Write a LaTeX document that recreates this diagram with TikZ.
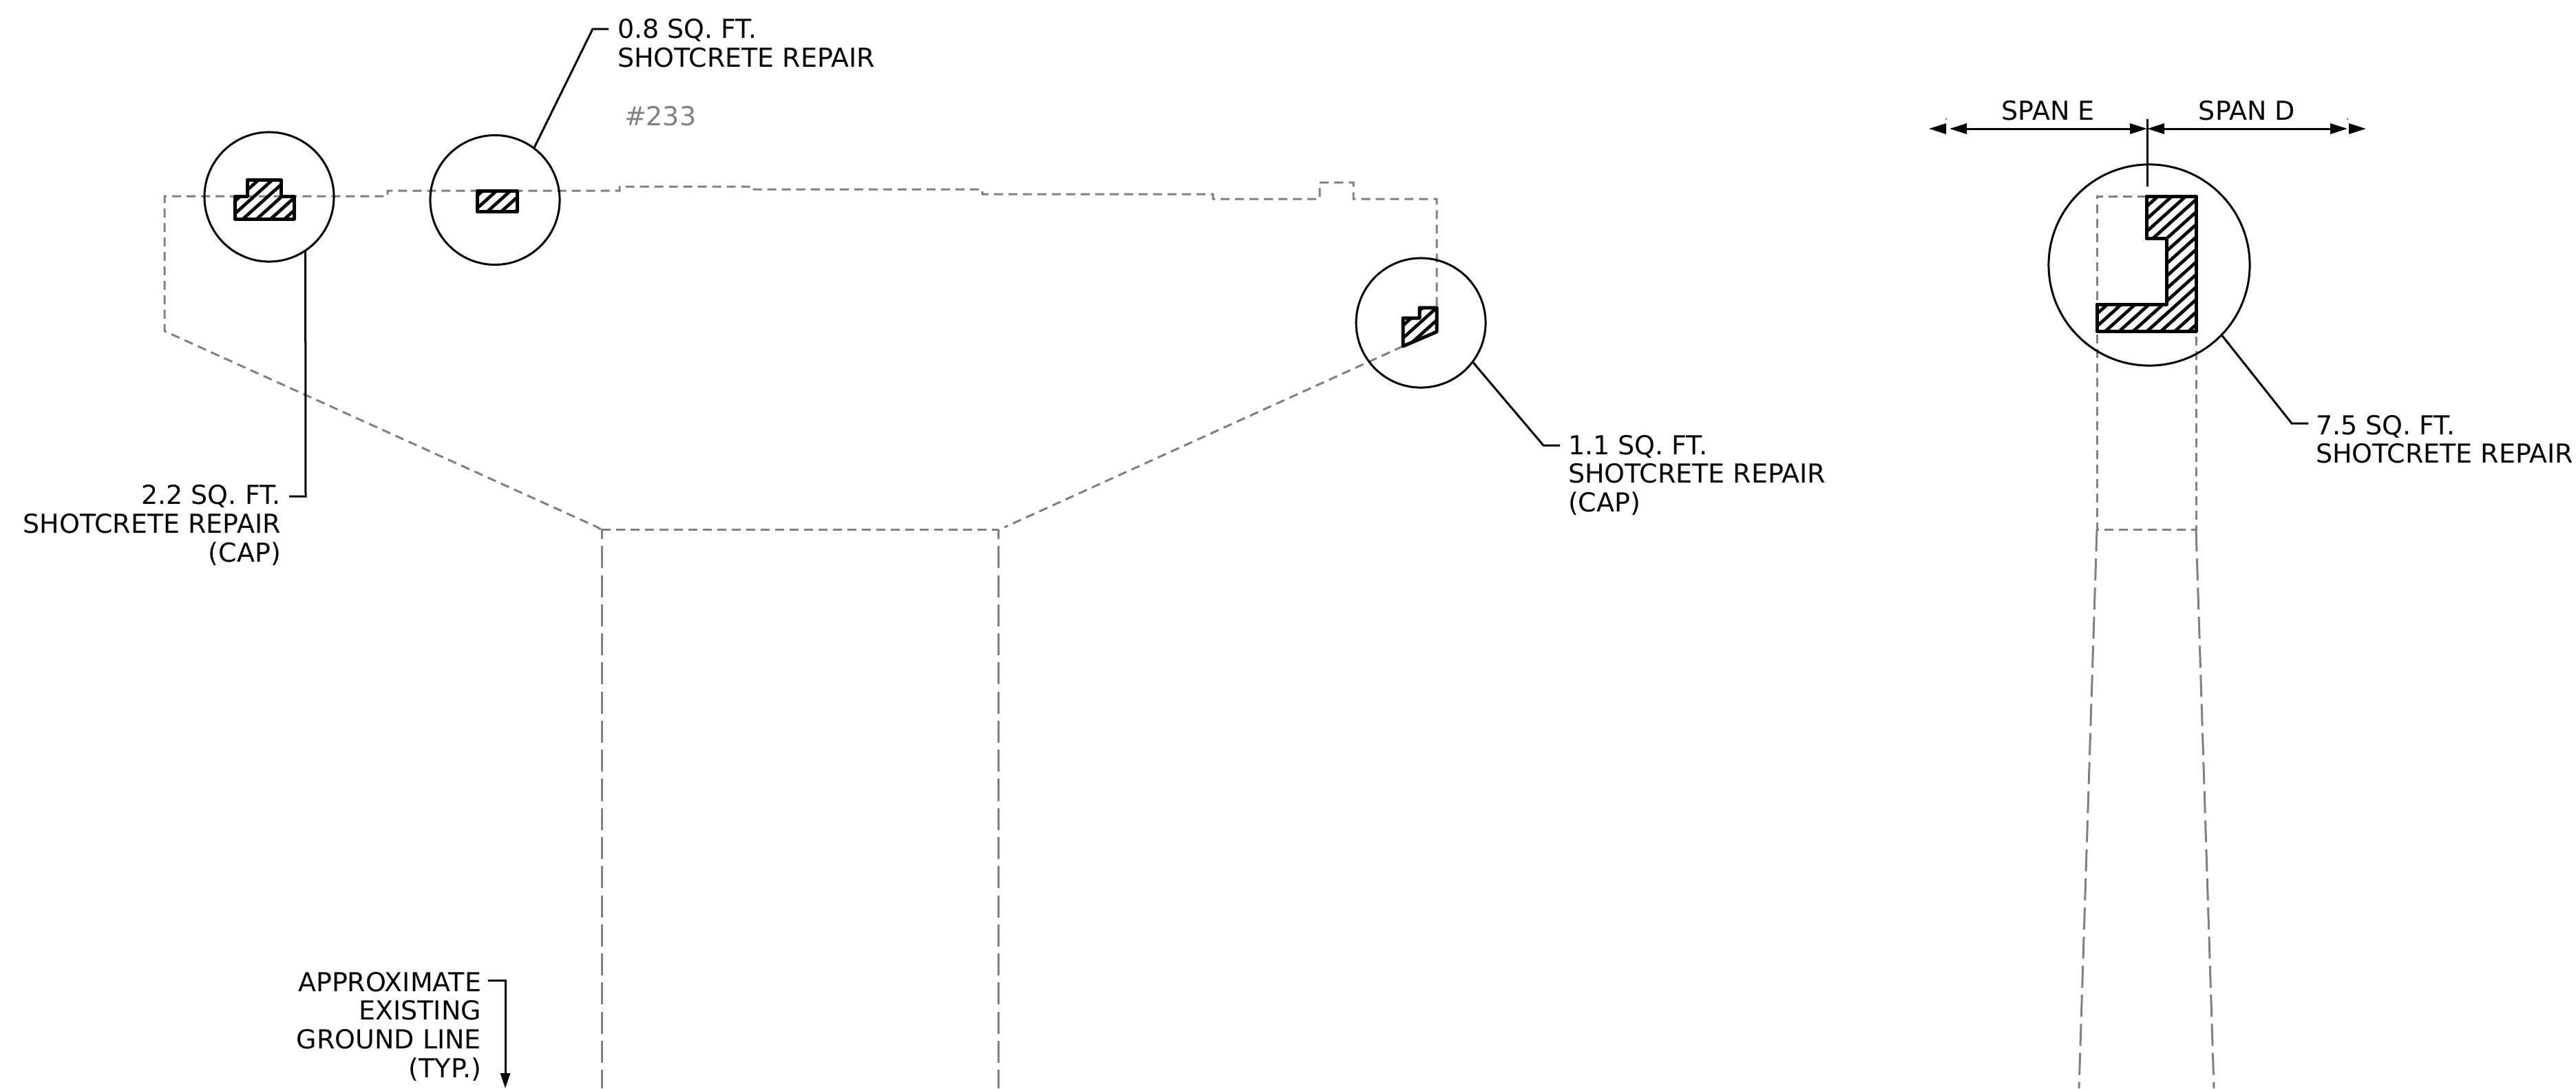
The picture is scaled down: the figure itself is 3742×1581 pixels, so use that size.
\documentclass[tikz,border=0pt]{standalone}
\usepackage{fontspec}
\setmainfont{DejaVu Sans}
\usetikzlibrary{arrows.meta,patterns.meta}
\tikzset{
	outline/.style={draw=black!50,line width=0.03cm,dash pattern=on 0.13cm off 0.08cm},
	outlinelong/.style={draw=black!50,line width=0.03cm,dash pattern=on 0.32cm off 0.1025cm,dash phase=#1},
	outlinelong/.default=0cm,
	repair/.style={draw=black,line width=0.05cm,line join=round,pattern={Lines[angle=42,distance=0.135cm,line width=0.047cm]}},
	detail/.style={circle,draw=black,line width=0.03cm,inner sep=0pt,outer sep=0pt,minimum size=#1},
	detail/.default=1.88cm,
	leader/.style={draw=black,line width=0.03cm},
	callout/.style={inner sep=0pt,outer sep=0pt,font=\fontsize{10.8}{11.85}\selectfont},
	spanarrow/.style={draw=black,line width=0.03cm,{Triangle[length=0.25cm,width=0.15cm]}-{Triangle[length=0.25cm,width=0.15cm]}},
	spantip/.style={draw=black,line width=0.03cm,-{Triangle[length=0.25cm,width=0.15cm]}}
}
\begin{document}
\begin{tikzpicture}[x=0.01cm,y=-0.01cm]
\useasboundingbox (0,0) rectangle (3742,1581);
% cap and column, front
\draw[outline] (873,769) -- (866,765) -- (239,481) -- (239,285) -- (563,285) -- (563,277) -- (900,277) -- (900,271) -- (1091,271) -- (1091,275) -- (1427,275) -- (1427,282) -- (1762,282) -- (1762,289) -- (1917,289) -- (1917,265) -- (1966,265) -- (1966,289) -- (2087,289) -- (2087,447);
\draw[outline] (2038,503) -- (1459,766);
\draw[outline] (874,769) -- (1450,769);
\draw[outlinelong=0.18cm] (874,769) -- (874,1581);
\draw[outlinelong=0.18cm] (1450,769) -- (1450,1581);
% column, side
\draw[outline] (3118,285) -- (3046,285) -- (3046,769) -- (3190,769) -- (3190,481);
\draw[outlinelong] (3046,769) -- (3020,1581);
\draw[outlinelong] (3190,769) -- (3216,1581);
% repair areas
\draw[repair] (359,285) -- (359,261) -- (408,261) -- (408,285) -- (427,285) -- (427,318) -- (341,318) -- (341,285) -- cycle;
\draw[repair] (693,277) rectangle (751,307);
\draw[repair] (2087,447) -- (2062,447) -- (2062,462) -- (2038,462) -- (2038,503) -- (2087,482) -- cycle;
\draw[repair] (3118,285) -- (3190,285) -- (3190,481) -- (3046,481) -- (3046,442) -- (3147,442) -- (3147,346) -- (3118,346) -- cycle;
% detail circles
\node[detail] (detailA) at (391,286) {};
\node[detail] (detailB) at (719,290.5) {};
\node[detail] (detailC) at (2064,469) {};
\node[detail=2.92cm] (detailD) at (3122,385) {};
% labels
\node[callout,anchor=north east,align=right] (labelA) at (408,704.5) {2.2 SQ. FT.\\SHOTCRETE REPAIR\\(CAP)};
\node[callout,anchor=north west,align=left] (labelB) at (897,27.5) {0.8 SQ. FT.\\SHOTCRETE REPAIR};
\node[callout,anchor=north west,align=left] (labelC) at (2278,632) {1.1 SQ. FT.\\SHOTCRETE REPAIR\\(CAP)};
\node[callout,anchor=north west,align=left] (labelD) at (3364,603) {7.5 SQ. FT.\\SHOTCRETE REPAIR};
\node[callout,anchor=north east,align=right] (labelGround) at (699,1412) {APPROXIMATE\\EXISTING\\GROUND LINE\\(TYP.)};
\node[callout,anchor=north west,text=black!50] (labelNumber) at (907,154) {\#233};
\node[callout,anchor=base] (labelE) at (2975,174) {SPAN E};
\node[callout,anchor=base] (labelF) at (3264,174) {SPAN D};
% leaders
\coordinate (elbowA) at (444,721);
\coordinate (endA) at (420,721);
\coordinate (elbowB) at (861,42);
\coordinate (endB) at (884,42);
\coordinate (elbowC) at (2242,647);
\coordinate (endC) at (2266,647);
\coordinate (elbowD) at (3329,615);
\coordinate (endD) at (3353,615);
\draw[leader] (detailA.-56) -- (elbowA) -- (endA);
\draw[leader] (detailB.53) -- (elbowB) -- (endB);
\draw[leader] (detailC.-37.7) -- (elbowC) -- (endC);
\draw[leader] (detailD.-44.4) -- (elbowD) -- (endD);
\coordinate (elbowGround) at (734,1424);
\coordinate (startGround) at (709,1424);
\coordinate (tipGround) at (734,1581);
\draw[leader,-{Triangle[length=0.22cm,width=0.14cm]}] (startGround) -- (elbowGround) -- (tipGround);
% spans
\coordinate (spanMid) at (3119,187);
\coordinate (spanTop) at (3119,173);
\coordinate (spanBottom) at (3119,271);
\draw[leader] (spanTop) -- (spanBottom);
\draw[spanarrow] (spanMid) -- (2832,187);
\draw[spanarrow] (spanMid) -- (3410,187);
\draw[spantip] (2827,187) -- (2802,187);
\draw[spantip] (3412,187) -- (3437,187);
\fill (2827,173) circle (1);
\fill (3410,173) circle (1);
\end{tikzpicture}
\end{document}
